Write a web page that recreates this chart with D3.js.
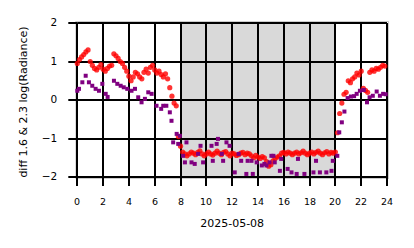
<!DOCTYPE html>
<html><head><meta charset="utf-8">
<script src="https://cdn.jsdelivr.net/npm/d3@7"></script>
<style>
body{margin:0;background:#fff}
svg{display:block;font-family:"DejaVu Sans",sans-serif}
</style>
</head><body>
<svg id="c" width="414" height="248"></svg>
<script>
// ---- data ----
const xTickLabels = [0,2,4,6,8,10,12,14,16,18,20,22,24];
const yTickLabels = [2,1,0,-1,-2];
const xLabel = "2025-05-08";
const yLabel = "diff 1.6 & 2.3  log(Radiance)";
const shadeStart = 8, shadeEnd = 20;

// red series: every 10 minutes from 0:00
const redValues = [
  0.95,1.05,1.12,1.18,1.25,1.30,
  1.00,0.90,0.82,0.78,0.85,0.92,
  0.80,0.75,0.82,0.88,0.90,1.20,
  1.15,1.08,1.00,0.95,0.85,0.75,
  0.62,0.50,0.60,0.72,0.68,0.60,
  0.55,0.72,0.80,0.70,0.85,0.90,
  0.78,0.70,0.75,0.66,0.60,0.68,
  0.55,0.32,0.10,-0.08,-0.15,-0.95,
  -1.20,
  -1.35,-1.40,-1.45,-1.40,-1.35,-1.38,
  -1.42,-1.36,-1.32,-1.40,-1.45,-1.40,
  -1.35,-1.40,-1.43,-1.38,-1.33,-1.38,
  -1.42,-1.36,-1.34,-1.40,-1.45,-1.38,
  -1.40,-1.44,-1.42,-1.38,-1.36,-1.42,
  -1.38,-1.40,-1.45,-1.50,-1.44,-1.48,
  -1.52,-1.47,-1.50,-1.60,-1.72,-1.68,
  -1.58,-1.52,-1.48,-1.45,-1.38,-1.36,
  -1.40,-1.35,-1.38,-1.42,-1.38,-1.35,
  -1.40,-1.37,-1.33,-1.38,-1.42,-1.38,
  -1.35,-1.40,-1.36,-1.33,-1.38,-1.42,
  -1.37,-1.34,-1.40,-1.36,-1.38,-1.35,
  -0.85,-0.35,-0.08,0.15,0.20,0.50,
  0.45,0.55,0.60,0.70,0.65,0.75,
  0.30,0.25,0.20,0.72,0.78,0.75,
  0.82,0.80,0.85,0.90,0.88
];
const redTimes = redValues.map((_, i) => i / 6);

// purple series (irregular sampling)
const purpleTimes = [
  0.0,0.13,0.39,0.65,0.9,1.16,1.42,1.68,1.94,2.2,2.35,2.84,3.1,3.36,3.6,3.87,
  4.2,4.47,4.72,4.98,5.24,5.5,5.76,6.14,6.5,6.66,6.9,7.17,7.3,7.43,7.7,7.82,7.95,
  8.2,8.34,8.46,8.85,9.1,9.36,9.55,9.75,10.4,10.5,10.8,10.9,11.2,11.3,11.56,11.8,
  12.2,12.5,12.7,13.1,13.2,13.5,13.6,13.9,14.3,14.5,14.66,14.9,15.04,15.2,15.3,
  15.7,15.8,16.3,16.6,17.0,17.1,17.6,18.3,18.5,18.8,19.3,19.7,19.8,
  20.15,20.3,20.5,20.7,20.95,21.2,21.45,21.65,21.9,22.2,22.45,22.65,22.9,23.2,23.45,23.7,23.9
];
const purpleValues = [
  0.24,0.29,0.46,0.63,0.46,0.37,0.29,0.24,0.42,0.16,0.08,0.50,0.42,0.37,0.33,0.29,
  0.24,0.29,0.07,-0.06,0.03,0.20,0.16,-0.15,-0.23,-0.15,-0.15,-0.32,-0.54,-1.10,-0.88,-1.14,-0.93,
  -1.45,-1.62,-1.10,-1.62,-1.66,-1.40,-1.19,-1.62,-1.19,-1.58,-1.14,-1.01,-1.40,-1.58,-1.10,-1.19,
  -1.88,-1.40,-1.58,-1.92,-1.58,-1.58,-1.92,-1.62,-1.70,-1.66,-1.70,-1.62,-1.45,-1.45,-1.62,
  -1.84,-1.53,-1.79,-1.88,-1.92,-1.53,-1.92,-1.88,-1.58,-1.88,-1.88,-1.84,-1.58,
  -1.45,-0.84,-0.58,-0.30,0.05,0.09,0.10,0.16,0.24,0.26,-0.06,0.07,0.11,0.22,0.11,0.16,0.15
];

// ---- chart ----
const svg = d3.select("#c");
const L = 77.3, R = 387, T = 23, B = 177;
const x = d3.scaleLinear().domain([0, 24]).range([L, R]);
const y = d3.scaleLinear().domain([-2, 2]).range([B, T]);
// rounded copies for crisp grid/tick lines
const xr = x.copy().interpolate(d3.interpolateRound);
const yr = y.copy().interpolate(d3.interpolateRound);

// shaded night span
svg.append("rect")
  .attr("x", x(shadeStart)).attr("y", T - 1.5)
  .attr("width", x(shadeEnd) - x(shadeStart)).attr("height", B - T + 3)
  .attr("fill", "#d9d9d9");

// frame (light spine)
svg.append("rect")
  .attr("x", L - 1.5).attr("y", T - 1.5)
  .attr("width", R - L + 3).attr("height", B - T + 3)
  .attr("fill", "none").attr("stroke", "#cccccc").attr("stroke-width", 1);

// grid lines
const gx = svg.append("g").attr("transform", `translate(-0.5,${B})`)
  .call(d3.axisBottom(xr).tickValues(xTickLabels).tickSize(-(B - T)).tickFormat(""));
const gy = svg.append("g").attr("transform", `translate(${L},-0.5)`)
  .call(d3.axisLeft(yr).tickValues(yTickLabels).tickSize(-(R - L)).tickFormat(""));
[gx, gy].forEach(g => {
  g.select(".domain").remove();
  g.selectAll(".tick line").attr("stroke", "#000").attr("stroke-width", 2);
});

// tick marks + labels
const ax = svg.append("g").attr("transform", `translate(-0.5,${B})`)
  .call(d3.axisBottom(xr).tickValues(xTickLabels).tickSize(9).tickPadding(12).tickFormat(d3.format("d")));
const ay = svg.append("g").attr("transform", `translate(${L},-0.5)`)
  .call(d3.axisLeft(yr).tickValues(yTickLabels).tickSize(9).tickPadding(11)
    .tickFormat(d => d < 0 ? "\u2212" + Math.abs(d) : String(d)));
[ax, ay].forEach(g => {
  g.select(".domain").remove();
  g.selectAll(".tick line").attr("stroke", "#000").attr("stroke-width", 2);
  g.selectAll(".tick text").attr("fill", "#000").style("font-family", "DejaVu Sans");
});
ax.selectAll(".tick text").style("font-size", "9.5px");
ay.selectAll(".tick text").style("font-size", "10.5px");

// red points
svg.append("g").selectAll("circle")
  .data(redTimes.map((t, i) => [t, redValues[i]]))
  .join("circle")
  .attr("cx", d => x(d[0])).attr("cy", d => y(d[1]))
  .attr("r", 2.6)
  .attr("fill", "#ff0000").attr("fill-opacity", 0.8);

// purple squares
const s = 4;
svg.append("g").selectAll("rect")
  .data(purpleTimes.map((t, i) => [t, purpleValues[i]]))
  .join("rect")
  .attr("x", d => x(d[0]) - s / 2).attr("y", d => y(d[1]) - s / 2)
  .attr("width", s).attr("height", s)
  .attr("fill", "#800080");

// axis labels
svg.append("text")
  .attr("x", (L + R) / 2).attr("y", 227)
  .attr("text-anchor", "middle").style("font-size", "11px").attr("fill", "#000")
  .text(xLabel);
svg.append("text")
  .attr("transform", `translate(23,${(T + B) / 2 + 2}) rotate(-90)`)
  .attr("text-anchor", "middle").attr("dominant-baseline", "central")
  .style("font-size", "11px").attr("fill", "#000")
  .text(yLabel);
</script>
</body></html>
